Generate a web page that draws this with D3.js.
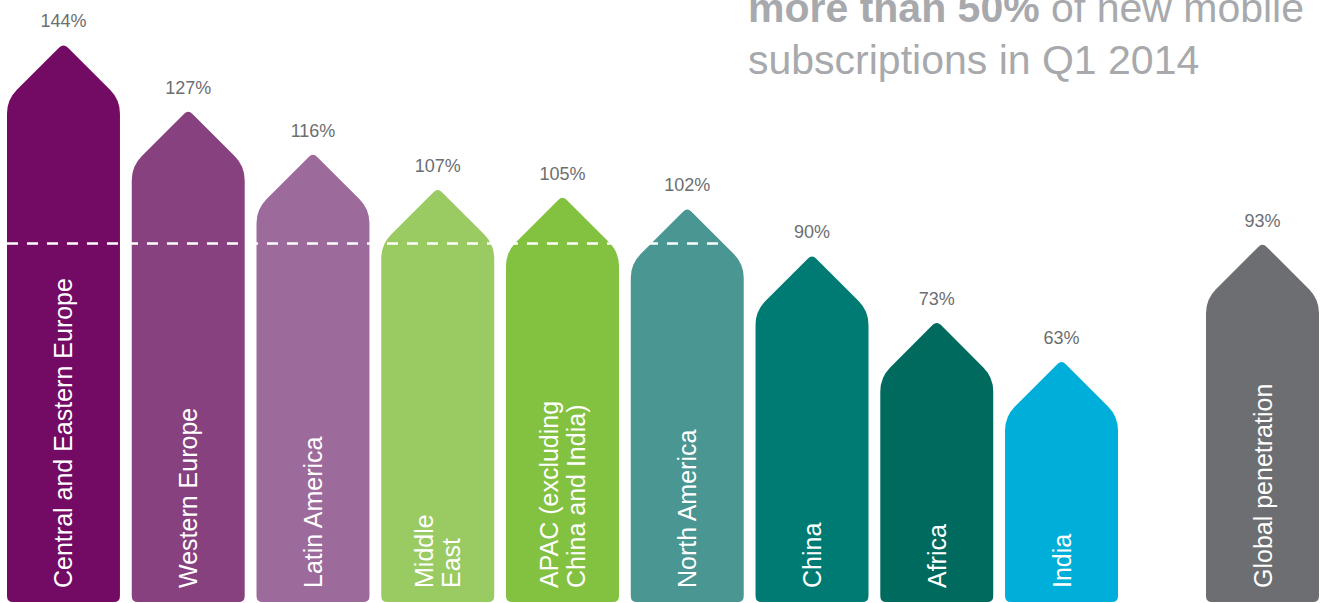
<!DOCTYPE html>
<html lang="en">
<head>
    <meta charset="utf-8">
    <title>Mobile penetration</title>
    <script src="https://d3js.org/d3.v7.min.js"></script>
    <style>
        body {
            margin: 0;
            background-color: #ffffff;
        }
        svg text {
            font-family: 'Liberation Sans', Arial, Helvetica, sans-serif;
        }
    </style>
</head>
<body>
    <div id="chart"></div>

    <script type="text/javascript">
        // regions and penetration (%)
        var regions = [
            ["Central and Eastern Europe"],
            ["Western Europe"],
            ["Latin America"],
            ["Middle", "East"],
            ["APAC (excluding", "China and India)"],
            ["North America"],
            ["China"],
            ["Africa"],
            ["India"]
        ];
        var values = [144, 127, 116, 107, 105, 102, 90, 73, 63];
        var colors = ["#730b64", "#87417f", "#9d6a9c", "#9aca62", "#83c141",
                      "#4a9692", "#007b74", "#006a5f", "#00afd9"];

        var globalLabel = ["Global penetration"];
        var globalValue = 93;
        var globalColor = "#6d6e71";

        var refValue = 100;   // dashed reference line

        var titleLines = [
            [{t: "more than 50%", bold: true}, {t: " of new mobile", bold: false}],
            [{t: "subscriptions in Q1 2014", bold: false}]
        ];

        var width = 1325, height = 603;
        var barBottom = 602;

        var svg = d3.select("#chart")
            .append("svg")
            .attr("width", width)
            .attr("height", height);

        var keys = regions.map(function(d) { return d.join(" "); });

        var x = d3.scaleBand()
            .domain(keys)
            .range([7, 1118])
            .paddingInner(0.0946)
            .paddingOuter(0);

        var xGlobal = d3.scaleBand()
            .domain([globalLabel.join(" ")])
            .range([1206, 1319]);

        // value maps to the middle of the arrow head
        var y = d3.scaleLinear()
            .domain([0, 144])
            .range([634.5, 71.5]);

        var bw = x.bandwidth();

        function arrowPath(x0, w, v) {
            var h = w / 2;
            var x1 = x0 + w;
            var cx = x0 + h;
            var ya = y(v) - h / 2;
            var ys = ya + h;
            var yb = barBottom;
            var r = 14, ra = 6, rb = 6;
            var k = Math.SQRT1_2;
            var p = d3.path();
            p.moveTo(x0, yb - rb);
            p.lineTo(x0, ys + r);
            p.quadraticCurveTo(x0, ys, x0 + r * k, ys - r * k);
            p.lineTo(cx - ra * k, ya + ra * k);
            p.quadraticCurveTo(cx, ya, cx + ra * k, ya + ra * k);
            p.lineTo(x1 - r * k, ys - r * k);
            p.quadraticCurveTo(x1, ys, x1, ys + r);
            p.lineTo(x1, yb - rb);
            p.quadraticCurveTo(x1, yb, x1 - rb, yb);
            p.lineTo(x0 + rb, yb);
            p.quadraticCurveTo(x0, yb, x0, yb - rb);
            p.closePath();
            return p.toString();
        }

        var data = regions.map(function(d, i) {
            return {key: keys[i], lines: d, value: values[i], color: colors[i], xs: x};
        });
        data.push({key: globalLabel.join(" "), lines: globalLabel, value: globalValue,
                   color: globalColor, xs: xGlobal});

        var bars = svg.selectAll("g.bar")
            .data(data)
            .enter()
            .append("g")
            .attr("class", "bar");

        bars.append("path")
            .attr("d", function(d) { return arrowPath(d.xs(d.key), d.xs.bandwidth(), d.value); })
            .attr("fill", function(d) { return d.color; });

        // dashed 100% line across the first regions
        svg.append("line")
            .attr("x1", x(keys[0]))
            .attr("x2", x(keys[5]) + bw * 0.8)
            .attr("y1", y(refValue))
            .attr("y2", y(refValue))
            .attr("stroke", "#ffffff")
            .attr("stroke-width", 2.5)
            .attr("stroke-dasharray", "11,9");

        // percentage labels
        bars.append("text")
            .attr("x", function(d) { return d.xs(d.key) + d.xs.bandwidth() / 2; })
            .attr("y", function(d) { return y(d.value) - d.xs.bandwidth() / 4 - 16; })
            .attr("text-anchor", "middle")
            .attr("font-size", 18)
            .attr("fill", "#6d6e71")
            .text(function(d) { return d.value + "%"; });

        // rotated category labels
        bars.each(function(d) {
            var cx = d.xs(d.key) + d.xs.bandwidth() / 2;
            var n = d.lines.length;
            var lineGap = 26.5;
            d3.select(this).selectAll("text.cat")
                .data(d.lines)
                .enter()
                .append("text")
                .attr("class", "cat")
                .attr("transform", function(t, j) {
                    var lx = cx + (j - (n - 1) / 2) * lineGap;
                    return "translate(" + lx + "," + 588 + ") rotate(-90)";
                })
                .attr("dominant-baseline", "central")
                .attr("font-size", 25)
                .attr("fill", "#ffffff")
                .text(function(t) { return t; });
        });

        // headline text (top right)
        var title = svg.append("g");
        titleLines.forEach(function(line, i) {
            var t = title.append("text")
                .attr("x", 748)
                .attr("y", 22 + i * 52)
                .attr("font-size", 41)
                .attr("fill", "#a7a9ac");
            line.forEach(function(part) {
                t.append("tspan")
                    .attr("font-weight", part.bold ? "bold" : "normal")
                    .text(part.t);
            });
        });
    </script>
</body>
</html>
